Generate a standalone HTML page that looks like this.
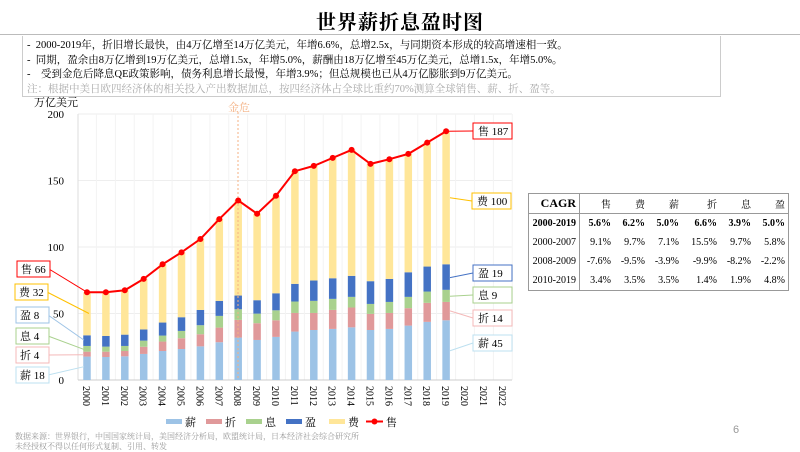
<!DOCTYPE html>
<html><head><meta charset="utf-8"><style>
body{margin:0;width:800px;height:450px;background:#fff;overflow:hidden;font-family:"Liberation Serif","Noto Serif CJK SC",serif;position:relative}
.t{position:absolute;white-space:nowrap}
table{border-collapse:collapse;font-size:10px}
td{padding:0 3px;height:19px;text-align:right}
</style></head><body>
<div class="t" style="left:0;width:800px;top:6px;text-align:center;font-size:20px;font-weight:bold;letter-spacing:1px">世界薪折息盈时图</div>
<div style="position:absolute;left:0;top:34px;width:800px;height:1px;background:#bbb"></div>
<div style="position:absolute;left:22px;top:36px;width:697px;height:60px;border:1px solid #ccc;border-top:none"></div>
<div class="t" style="left:27px;top:39px;font-size:10.5px;line-height:14.5px">
- &nbsp;2000-2019年，折旧增长最快，由4万亿增至14万亿美元，年增6.6%，总增2.5x，与同期资本形成的较高增速相一致。<br>
- &nbsp;同期，盈余由8万亿增到19万亿美元，总增1.5x，年增5.0%，薪酬由18万亿增至45万亿美元，总增1.5x，年增5.0%。<br>
- &nbsp;&nbsp;&nbsp;受到金危后降息QE政策影响，债务利息增长最慢，年增3.9%；但总规模也已从4万亿膨胀到9万亿美元。<br>
<span style="color:#aaa">注：根据中美日欧四经济体的相关投入产出数据加总，按四经济体占全球比重约70%测算全球销售、薪、折、盈等。</span></div>
<div class="t" style="left:34px;top:94px;font-size:11px">万亿美元</div>
<svg id="c" width="800" height="450" style="position:absolute;left:0;top:0" font-family="Liberation Serif, Noto Serif CJK SC, serif"></svg>
<div style="position:absolute;left:528px;top:193px;border:1px solid #999">
<table>
<tr style="border-bottom:1px solid #999"><td style="font-weight:bold;font-size:12px;border-right:1px solid #999;width:44px">CAGR</td><td style="width:28px">售</td><td style="width:28px">费</td><td style="width:28px">薪</td><td style="width:32px">折</td><td style="width:28px">息</td><td style="width:28px">盈</td></tr>
<tr style="font-weight:bold"><td style="border-right:1px solid #999">2000-2019</td><td>5.6%</td><td>6.2%</td><td>5.0%</td><td>6.6%</td><td>3.9%</td><td>5.0%</td></tr>
<tr><td style="border-right:1px solid #999">2000-2007</td><td>9.1%</td><td>9.7%</td><td>7.1%</td><td>15.5%</td><td>9.7%</td><td>5.8%</td></tr>
<tr><td style="border-right:1px solid #999">2008-2009</td><td>-7.6%</td><td>-9.5%</td><td>-3.9%</td><td>-9.9%</td><td>-8.2%</td><td>-2.2%</td></tr>
<tr><td style="border-right:1px solid #999">2010-2019</td><td>3.4%</td><td>3.5%</td><td>3.5%</td><td>1.4%</td><td>1.9%</td><td>4.8%</td></tr>
</table></div>
<div class="t" style="left:15px;top:432px;font-size:8px;color:#999;line-height:10px">数据来源：世界银行，中国国家统计局，美国经济分析局，欧盟统计局，日本经济社会综合研究所<br>未经授权不得以任何形式复制、引用、转发</div>
<div class="t" style="left:733px;top:424px;font-size:11px;color:#999;font-family:'Liberation Sans',sans-serif">6</div>
<script>
var d=[[17.6,21.3,25.6,33.6,66],[17.3,21.3,25.1,33.1,66],[17.8,21.8,25.6,34.1,67.5],[19.6,25,29.6,38,76],[21.8,28.9,33.4,43.2,87],[23.3,31.4,36.9,47.2,96],[25.3,34.4,41.2,52.7,106],[28.4,39.4,48.2,59.5,121],[31.9,45.2,53.2,63.5,135],[30.1,42.7,49.9,60,125],[32.4,44.9,52.4,65.2,138.5],[36.4,50.4,59,72.3,157],[37.6,50.4,59.5,74.8,161],[38.4,52.7,61,76.5,167],[39.6,54.5,62.5,78.3,173],[37.6,49.7,57.2,74.3,162.5],[38.4,50.4,58.7,76,166],[40.9,54,62.5,81,170],[43.7,58,66.5,85.3,178.5],[44.9,58.7,67.8,87,187]];
var col=['#9dc3e6','#e0999a','#a9d18e','#4472c4','#ffe699'];
function Y(v){return 380-v*1.33}function X(i){return 87+i*18.9}
var s='';
for(var v=0;v<=200;v+=50){s+='<line x1="78" x2="512" y1="'+Y(v)+'" y2="'+Y(v)+'" stroke="#eee"/>';s+='<text x="64" y="'+(Y(v)+4)+'" font-size="11" text-anchor="end">'+v+'</text>';}
for(var i=0;i<23;i++){s+='<line x1="'+(X(i)+9.45)+'" x2="'+(X(i)+9.45)+'" y1="114" y2="380" stroke="#f3f3f3"/>';s+='<text transform="translate('+(X(i)-4)+',386) rotate(90)" font-size="10">'+(2000+i)+'</text>';}
s+='<line x1="78" x2="78" y1="114" y2="380" stroke="#ddd"/><line x1="78" x2="512" y1="380" y2="380" stroke="#ccc"/>';
d.forEach(function(r,i){var p=0;for(var k=0;k<5;k++){s+='<rect x="'+(X(i)-3.75)+'" width="7.5" y="'+Y(r[k])+'" height="'+(Y(p)-Y(r[k]))+'" fill="'+col[k]+'"/>';p=r[k];}});
s+='<line x1="238" x2="238" y1="112" y2="380" stroke="#f4b183" stroke-dasharray="2,2"/><text x="239" y="111" font-size="11" fill="#f4b183" text-anchor="middle">金危</text>';
var pts=d.map(function(r,i){return X(i)+','+Y(r[4])}).join(' ');
s+='<polyline points="'+pts+'" fill="none" stroke="#f00" stroke-width="2"/>';
d.forEach(function(r,i){s+='<circle cx="'+X(i)+'" cy="'+Y(r[4])+'" r="3" fill="#f00"/>'});
var L=[['售 66',17,261,'#f00',87,Y(66)],['费 32',15,284,'#ffc000',89,Y(50)],['盈 8',16,307,'#9dc3e6',84,Y(30)],['息 4',16,328,'#a9d18e',84,Y(23)],['折 4',16,347,'#f4b9b9',84,Y(19)],['薪 18',16,367,'#bde0f0',84,Y(10)]];
L.forEach(function(l){s+='<line x1="'+(l[1]+32)+'" y1="'+(l[2]+8)+'" x2="'+l[4]+'" y2="'+l[5]+'" stroke="'+l[3]+'"/><rect x="'+l[1]+'" y="'+l[2]+'" width="33" height="16" fill="#fff" stroke="'+l[3]+'"/><text x="'+(l[1]+4)+'" y="'+(l[2]+12)+'" font-size="11">'+l[0]+'</text>'});
var R=[['售 187',473,123,'#f00',446,Y(187)],['费 100',472,193,'#ffc000',450,Y(137)],['盈 19',473,265,'#4472c4',450,Y(77)],['息 9',473,287,'#a9d18e',450,Y(63)],['折 14',473,310,'#f4b9b9',450,Y(52)],['薪 45',473,335,'#bde0f0',450,Y(22)]];
R.forEach(function(l){s+='<line x1="'+l[1]+'" y1="'+(l[2]+8)+'" x2="'+l[4]+'" y2="'+l[5]+'" stroke="'+l[3]+'"/><rect x="'+l[1]+'" y="'+l[2]+'" width="39" height="16" fill="#fff" stroke="'+l[3]+'"/><text x="'+(l[1]+5)+'" y="'+(l[2]+12)+'" font-size="11">'+l[0]+'</text>'});
var lg=[['薪',166],['折',206],['息',246],['盈',286],['费',329]];
lg.forEach(function(g,k){s+='<rect x="'+g[1]+'" y="419" width="16" height="5" fill="'+col[k]+'"/><text x="'+(g[1]+19)+'" y="426" font-size="11">'+g[0]+'</text>'});
s+='<line x1="366" x2="383" y1="421.5" y2="421.5" stroke="#f00" stroke-width="2"/><circle cx="374.5" cy="421.5" r="3" fill="#f00"/><text x="386" y="426" font-size="11">售</text>';
document.getElementById('c').innerHTML=s;
</script>
</body></html>
